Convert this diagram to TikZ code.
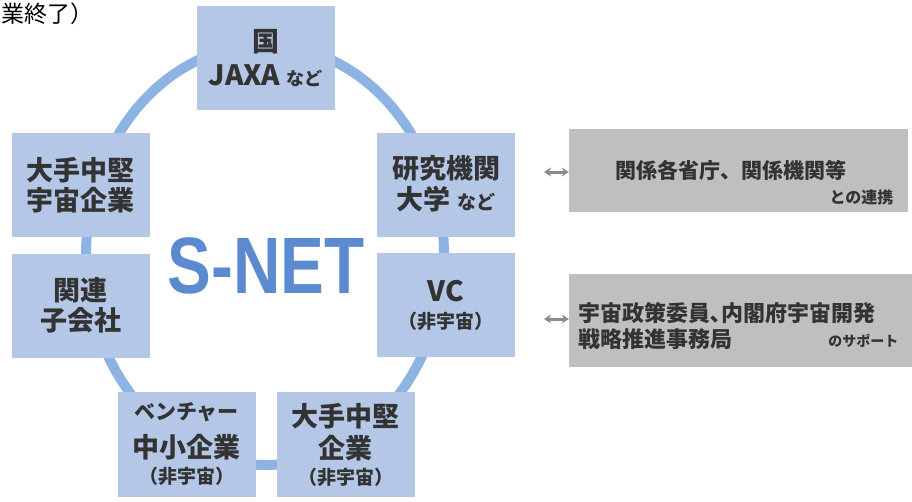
\documentclass[tikz,border=0pt]{standalone}
\usepackage{fontspec}
\usepackage{graphicx}
\usepackage{tikz}
\usepackage{xcolor}
\usetikzlibrary{
  positioning, arrows.meta, calc,
}
\setmainfont{Noto Sans CJK JP}
\newfontfamily\latinbold{Liberation Sans}
\definecolor{cBox}     {HTML}{B4C7E7}
\definecolor{cRing}    {HTML}{8DB3E2}
\definecolor{cNet}     {HTML}{5B8AD1}
\definecolor{cInk}     {HTML}{333333}
\definecolor{cGrey}    {HTML}{BFBFBF}
\definecolor{cArrow}   {HTML}{8A8A8A}
\newcommand{\fs}[2]{\fontsize{#1}{#2}\selectfont}

\begin{document}
\begin{tikzpicture}[x=1pt, y=-1pt,
    member/.style={fill=cBox, inner sep=0pt, minimum width=138pt, minimum height=104pt,
                   align=center, text=cInk, font=\bfseries\fs{27}{30}},
    partner/.style={fill=cGrey, inner sep=0pt, minimum height=83pt},
    link/.style={{Stealth[length=7pt,width=9pt]}-{Stealth[length=7pt,width=9pt]},
                 line width=3pt, draw=cArrow},
  ]
  \useasboundingbox (0,0) rectangle (912,501);
  % ring behind the members
  \draw[cRing, line width=10pt] (265,255) ellipse [x radius=179pt, y radius=210pt];

  \node[font=\fs{23}{24}, anchor=west] (cut) at (-2,14) {業終了）};

  \node[member] (kuni)  at (265.5,58)  {国\\[4pt]{\fs{28}{30}JAXA} {\fs{18}{20}など}};
  \node[member] (taite) at (80.5,185)  {大手中堅\\宇宙企業};
  \node[member] (ken)   at (446,185)   {\\[-10pt]研究機関\\[1pt]大学 {\fs{19}{20}など}};
  \node[member] (kanren) at (80.5,305.5) {関連\\子会社};
  \node[member] (vc)    at (446,305)   {\fs{28}{28}VC\\[-3pt]{\fs{19}{20}（非宇宙）}};
  \node[member, minimum height=105pt] (vent) at (186.5,444.5)
        {{\fs{21}{24}ベンチャー}\\[8pt]中小企業\\[-4pt]{\fs{19}{20}（非宇宙）}};
  \node[member, minimum height=105pt] (chuken) at (345.5,444.5)
        {大手中堅\\[2pt]企業\\[-4pt]{\fs{19}{20}（非宇宙）}};

  \node[text=cNet] (snet) at (266,266)
        {\scalebox{0.82}[1]{\latinbold\bfseries\fs{80}{80}S-NET}};

  % partners on the right
  \node[partner, minimum width=339pt] (renkei) at (738.5,170.5) {};
  \node[partner, minimum width=343pt, minimum height=93pt] (support) at (740.5,320.5) {};
  \node[font=\bfseries\fs{21}{24}, text=cInk] (renkeiA) at (731,170) {関係各省庁、関係機関等};
  \node[font=\bfseries\fs{16}{18}, text=cInk, anchor=east] (renkeiB) at (897,197) {との連携};
  \node[font=\bfseries\fs{22}{26}, text=cInk, anchor=west, align=left] (supportA) at (575,326)
        {宇宙政策委員､内閣府宇宙開発\\戦略推進事務局};
  \node[font=\bfseries\fs{14}{16}, text=cInk, anchor=east] (supportB) at (902,341) {のサポート};

  \coordinate (toRenkei)  at (544,172);
  \coordinate (toSupport) at (544,319);
  \draw[link] (toRenkei)  -- (toRenkei -| renkei.west);
  \draw[link] (toSupport) -- (toSupport -| support.west);
\end{tikzpicture}
\end{document}
